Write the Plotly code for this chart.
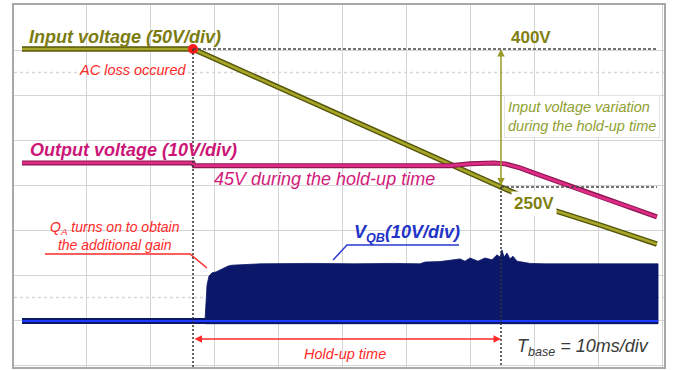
import plotly.graph_objects as go

# ---- data (time in ms, 10 ms/div) ----
ac_loss_t = 26.72
holdup_end_t = 74.84

vin_t = [0, 26.72, 74.84, 83.44, 90.3, 99.2]
vin_v = [400, 400, 250, 223.9, 208.7, 188.0]          # V, 50 V/div

vout_t = [0, 26.72, 26.9, 50, 66.9, 70.0, 73.75, 75.5, 77.8, 80.9, 85.2, 90.3, 95.0, 99.2]
vout_v = [44.9, 44.9, 44.3, 44.3, 44.3, 44.7, 44.9, 44.7, 43.8, 42.2, 40.0, 37.3, 35.1, 32.9]  # V, 10 V/div

vqb_t = [28.59, 28.75, 28.91, 29.22, 29.69, 30.31, 30.94, 31.56, 32.19, 32.81, 37.19, 45.0, 52.0,
         58.0, 62.19, 62.97, 65.31, 68.44, 69.22, 70.0, 71.25, 72.34, 73.44, 74.22, 74.69, 75.0,
         75.31, 75.78, 76.25, 76.72, 77.34, 78.13, 79.38, 81.72, 90.0, 99.38]
vqb_v = [0, 4.7, 8.0, 10.0, 10.7, 10.9, 11.3, 11.8, 12.2, 12.4, 12.7, 12.8, 12.7, 12.8, 12.7, 13.1,
         13.2, 13.8, 13.3, 14.0, 13.3, 14.0, 13.6, 14.7, 14.2, 15.8, 14.2, 15.1, 13.8, 14.4, 13.3,
         13.1, 12.8, 12.7, 12.7, 12.7]  # envelope, V, 10 V/div
vqb_base_t = [0, 99.38]
vqb_base_v = [0, 0]

level_400 = 400
level_250 = 250

# ---- figure ----
OLIVE_TXT = "#7b7b10"
MAG = "#cc1677"
RED = "#ff2a2a"
NAVY = "#0b1768"
FONT = "Liberation Sans"

fig = go.Figure()

# VQB
fig.add_trace(go.Scatter(x=vqb_t + [vqb_t[-1], vqb_t[0]], y=vqb_v + [-0.6, -0.6],
                         fill="toself", fillcolor=NAVY, mode="lines",
                         line=dict(color=NAVY, width=0.8), yaxis="y4", hoverinfo="skip"))
fig.add_trace(go.Scatter(x=vqb_base_t, y=vqb_base_v, mode="lines",
                         line=dict(color=NAVY, width=6), yaxis="y4", hoverinfo="skip"))
fig.add_trace(go.Scatter(x=vqb_base_t, y=vqb_base_v, mode="lines",
                         line=dict(color="#1e3cff", width=2.2), yaxis="y4", hoverinfo="skip"))

# Output voltage
fig.add_trace(go.Scatter(x=vout_t, y=vout_v, mode="lines",
                         line=dict(color="#8c1650", width=5), yaxis="y3", hoverinfo="skip"))
fig.add_trace(go.Scatter(x=vout_t, y=vout_v, mode="lines",
                         line=dict(color="#dc2c86", width=2.8), yaxis="y3", hoverinfo="skip"))

# Input voltage
fig.add_trace(go.Scatter(x=vin_t, y=vin_v, mode="lines",
                         line=dict(color="#55550a", width=5.5), yaxis="y2", hoverinfo="skip"))
fig.add_trace(go.Scatter(x=vin_t, y=vin_v, mode="lines",
                         line=dict(color="#a6a62a", width=2.6), yaxis="y2", hoverinfo="skip"))

# AC loss dot
fig.add_trace(go.Scatter(x=[ac_loss_t], y=[level_400], mode="markers",
                         marker=dict(color="#ff1a1a", size=10), yaxis="y2", hoverinfo="skip"))

y2_range = [54.35, 447.83]

shapes = [
    # faint dotted rows
    dict(type="line", xref="paper", x0=0, x1=1, yref="y", y0=6.5, y1=6.5,
         line=dict(color="#d6d6d6", width=1.5, dash="dot"), layer="below"),
    dict(type="line", xref="paper", x0=0, x1=1, yref="y", y0=1.5, y1=1.5,
         line=dict(color="#d6d6d6", width=1.5, dash="dot"), layer="below"),
    # reference levels
    dict(type="line", xref="x", x0=ac_loss_t, x1=99.2, yref="y2", y0=level_400, y1=level_400,
         line=dict(color="#444444", width=1.3, dash="3px,2px")),
    dict(type="line", xref="x", x0=holdup_end_t, x1=99.2, yref="y2", y0=level_250, y1=level_250,
         line=dict(color="#444444", width=1.3, dash="3px,2px")),
    dict(type="line", xref="x", x0=ac_loss_t, x1=ac_loss_t, yref="y2", y0=level_400, y1=y2_range[0],
         line=dict(color="#333333", width=1.5, dash="2px,2px")),
    dict(type="line", xref="x", x0=holdup_end_t, x1=holdup_end_t, yref="y2", y0=level_250, y1=y2_range[0],
         line=dict(color="#333333", width=1.5, dash="2px,2px")),
    # leader lines
    dict(type="path", xref="x", yref="y", path="M 3.59,2.467 L 26.25,2.467 L 28.9,2.156",
         line=dict(color=RED, width=1.5)),
    dict(type="path", xref="x", yref="y", path="M 68.28,2.667 L 50.78,2.667 L 48.6,2.333",
         line=dict(color="#2a3ad0", width=1.5)),
]

ann = [
    dict(x=0.78, y=7.289, xref="x", yref="y", xanchor="left", yanchor="middle", showarrow=False,
         text="<b><i>Input voltage (50V/div)</i></b>", font=dict(family=FONT, size=18, color=OLIVE_TXT)),
    dict(x=0.94, y=4.778, xref="x", yref="y", xanchor="left", yanchor="middle", showarrow=False,
         text="<b><i>Output voltage (10V/div)</i></b>", font=dict(family=FONT, size=18, color=MAG)),
    dict(x=26.1, y=6.556, xref="x", yref="y", xanchor="right", yanchor="middle", showarrow=False,
         text="<i>AC loss occured</i>", font=dict(family=FONT, size=14.5, color=RED)),
    dict(x=76.1, y=7.289, xref="x", yref="y", xanchor="left", yanchor="middle", showarrow=False,
         text="<b>400V</b>", font=dict(family=FONT, size=17, color="#808010")),
    dict(x=75.3, y=5.533, xref="x", yref="y", xanchor="left", yanchor="middle", showarrow=False,
         text="<i>Input voltage variation<br>during the hold-up time</i>", align="left",
         bgcolor="rgba(255,255,255,0.9)", bordercolor="#e4e4e4", borderwidth=1, borderpad=3,
         font=dict(family=FONT, size=14.5, color="#8fa030")),
    dict(x=29.69, y=4.133, xref="x", yref="y", xanchor="left", yanchor="middle", showarrow=False,
         text="<i>45V during the hold-up time</i>", font=dict(family=FONT, size=18, color="#d21a7c")),
    dict(x=76.4, y=3.6, xref="x", yref="y", xanchor="left", yanchor="middle", showarrow=False,
         text="<b>250V</b>", bgcolor="white", borderpad=2,
         font=dict(family=FONT, size=17, color="#808010")),
    dict(x=14.5, y=2.867, xref="x", yref="y", xanchor="center", yanchor="middle", showarrow=False,
         text="<i>Q<sub>A</sub> turns on to obtain<br>the additional gain</i>", align="center",
         font=dict(family=FONT, size=14, color=RED)),
    dict(x=51.56, y=2.933, xref="x", yref="y", xanchor="left", yanchor="middle", showarrow=False,
         text="<b><i>V<sub>QB</sub>(10V/div)</i></b>", font=dict(family=FONT, size=18, color="#2233c8")),
    dict(x=50.4, y=0.244, xref="x", yref="y", xanchor="center", yanchor="middle", showarrow=False,
         text="<i>Hold-up time</i>", font=dict(family=FONT, size=14.5, color=RED)),
    dict(x=77.0, y=0.4, xref="x", yref="y", xanchor="left", yanchor="middle", showarrow=False,
         text="<i>T<sub>base</sub> = 10ms/div</i>", font=dict(family=FONT, size=18, color="#3a3a3a")),
    # arrows
    dict(x=holdup_end_t, y=0.578, ax=ac_loss_t, ay=0.578, xref="x", yref="y", axref="x", ayref="y",
         text="", showarrow=True, arrowhead=2, arrowside="end+start", arrowsize=1, arrowwidth=1.5,
         arrowcolor=RED, standoff=0, startstandoff=0),
    dict(x=holdup_end_t, y=level_400, ax=holdup_end_t, ay=level_250, xref="x", yref="y2",
         axref="x", ayref="y2", text="", showarrow=True, arrowhead=2, arrowside="end+start",
         arrowsize=1, arrowwidth=1.5, arrowcolor="#9a9a2a", standoff=0, startstandoff=0),
]

fig.update_layout(
    width=674, height=370,
    margin=dict(l=14, r=10, t=5, b=3),
    paper_bgcolor="white", plot_bgcolor="white",
    showlegend=False,
    xaxis=dict(range=[-1.25, 100.3125], tickvals=list(range(10, 101, 10)), showticklabels=False,
               showgrid=True, gridcolor="#d4d4d4", gridwidth=1, zeroline=False, ticks="",
               showline=True, mirror=True, linecolor="#a8a8a8", linewidth=2),
    yaxis=dict(range=[-0.0444, 8.0], tickvals=list(range(0, 9)), showticklabels=False,
               showgrid=True, gridcolor="#d4d4d4", gridwidth=1, zeroline=False, ticks="",
               showline=True, mirror=True, linecolor="#a8a8a8", linewidth=2),
    yaxis2=dict(range=y2_range, overlaying="y", visible=False),
    yaxis3=dict(range=[-0.444, 80.0], overlaying="y", visible=False),
    yaxis4=dict(range=[-10.22, 70.22], overlaying="y", visible=False),
    shapes=shapes,
    annotations=ann,
)

fig.write_html("out.html")
